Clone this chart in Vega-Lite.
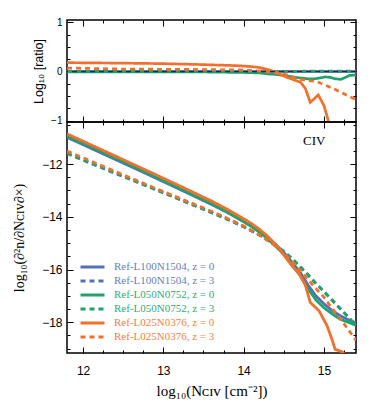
{
  "$schema": "https://vega.github.io/schema/vega-lite/v6.json",
  "autosize": "none",
  "padding": {"left": 67, "top": 20, "right": 307, "bottom": 391},
  "background": "white",
  "spacing": 0,
  "bounds": "flush",
  "resolve": {"scale": {"color": "independent", "strokeDash": "independent"}, "legend": {"color": "independent", "strokeDash": "independent"}},
  "config": {
    "concat": {"spacing": 0},
    "view": {"stroke": "black", "strokeWidth": 1.5},
    "axis": {"domain": false, "grid": false, "tickColor": "black", "tickWidth": 1, "labelColor": "black", "titleColor": "black", "labelFont": "Liberation Sans", "titleFont": "Liberation Serif", "titleFontWeight": "normal", "labelOverlap": false, "labelBound": false, "labelFlush": false},
    "line": {"clip": true}
  },
  "datasets": {
    "ratio": [
      {"N": 11.8, "series": "Ref-L100N1504, z = 0", "r": 0},
      {"N": 13.0, "series": "Ref-L100N1504, z = 0", "r": 0},
      {"N": 14.0, "series": "Ref-L100N1504, z = 0", "r": 0},
      {"N": 15.4, "series": "Ref-L100N1504, z = 0", "r": 0},
      {"N": 11.8, "series": "Ref-L100N1504, z = 3", "r": 0},
      {"N": 13.0, "series": "Ref-L100N1504, z = 3", "r": 0},
      {"N": 14.0, "series": "Ref-L100N1504, z = 3", "r": 0},
      {"N": 15.4, "series": "Ref-L100N1504, z = 3", "r": 0},
      {"N": 11.8, "series": "Ref-L050N0752, z = 0", "r": -0.01},
      {"N": 12.5, "series": "Ref-L050N0752, z = 0", "r": -0.01},
      {"N": 13.5, "series": "Ref-L050N0752, z = 0", "r": -0.01},
      {"N": 14.0, "series": "Ref-L050N0752, z = 0", "r": -0.02},
      {"N": 14.2, "series": "Ref-L050N0752, z = 0", "r": -0.03},
      {"N": 14.3, "series": "Ref-L050N0752, z = 0", "r": -0.05},
      {"N": 14.4, "series": "Ref-L050N0752, z = 0", "r": -0.06},
      {"N": 14.5, "series": "Ref-L050N0752, z = 0", "r": -0.08},
      {"N": 14.6, "series": "Ref-L050N0752, z = 0", "r": -0.11},
      {"N": 14.7, "series": "Ref-L050N0752, z = 0", "r": -0.13},
      {"N": 14.8, "series": "Ref-L050N0752, z = 0", "r": -0.15},
      {"N": 14.88, "series": "Ref-L050N0752, z = 0", "r": -0.15},
      {"N": 14.96, "series": "Ref-L050N0752, z = 0", "r": -0.13},
      {"N": 15.02, "series": "Ref-L050N0752, z = 0", "r": -0.11},
      {"N": 15.08, "series": "Ref-L050N0752, z = 0", "r": -0.12},
      {"N": 15.14, "series": "Ref-L050N0752, z = 0", "r": -0.15},
      {"N": 15.21, "series": "Ref-L050N0752, z = 0", "r": -0.16},
      {"N": 15.27, "series": "Ref-L050N0752, z = 0", "r": -0.12},
      {"N": 15.32, "series": "Ref-L050N0752, z = 0", "r": -0.08},
      {"N": 15.4, "series": "Ref-L050N0752, z = 0", "r": -0.07},
      {"N": 11.8, "series": "Ref-L050N0752, z = 3", "r": 0},
      {"N": 13.0, "series": "Ref-L050N0752, z = 3", "r": 0},
      {"N": 14.5, "series": "Ref-L050N0752, z = 3", "r": 0},
      {"N": 15.0, "series": "Ref-L050N0752, z = 3", "r": 0.01},
      {"N": 15.4, "series": "Ref-L050N0752, z = 3", "r": 0.01},
      {"N": 11.8, "series": "Ref-L025N0376, z = 0", "r": 0.18},
      {"N": 12.5, "series": "Ref-L025N0376, z = 0", "r": 0.17},
      {"N": 13.0, "series": "Ref-L025N0376, z = 0", "r": 0.16},
      {"N": 13.5, "series": "Ref-L025N0376, z = 0", "r": 0.14},
      {"N": 13.9, "series": "Ref-L025N0376, z = 0", "r": 0.12},
      {"N": 14.1, "series": "Ref-L025N0376, z = 0", "r": 0.1},
      {"N": 14.2, "series": "Ref-L025N0376, z = 0", "r": 0.08},
      {"N": 14.3, "series": "Ref-L025N0376, z = 0", "r": 0.04},
      {"N": 14.38, "series": "Ref-L025N0376, z = 0", "r": 0.0},
      {"N": 14.54, "series": "Ref-L025N0376, z = 0", "r": -0.12},
      {"N": 14.71, "series": "Ref-L025N0376, z = 0", "r": -0.22},
      {"N": 14.77, "series": "Ref-L025N0376, z = 0", "r": -0.35},
      {"N": 14.83, "series": "Ref-L025N0376, z = 0", "r": -0.63},
      {"N": 14.93, "series": "Ref-L025N0376, z = 0", "r": -0.48},
      {"N": 15.0, "series": "Ref-L025N0376, z = 0", "r": -0.69},
      {"N": 15.06, "series": "Ref-L025N0376, z = 0", "r": -1.03},
      {"N": 15.12, "series": "Ref-L025N0376, z = 0", "r": -1.4},
      {"N": 11.8, "series": "Ref-L025N0376, z = 3", "r": 0.07},
      {"N": 12.5, "series": "Ref-L025N0376, z = 3", "r": 0.05},
      {"N": 13.5, "series": "Ref-L025N0376, z = 3", "r": 0.04},
      {"N": 14.0, "series": "Ref-L025N0376, z = 3", "r": 0.03},
      {"N": 14.2, "series": "Ref-L025N0376, z = 3", "r": 0.01},
      {"N": 14.4, "series": "Ref-L025N0376, z = 3", "r": -0.03},
      {"N": 14.54, "series": "Ref-L025N0376, z = 3", "r": -0.07},
      {"N": 14.71, "series": "Ref-L025N0376, z = 3", "r": -0.16},
      {"N": 14.92, "series": "Ref-L025N0376, z = 3", "r": -0.21},
      {"N": 15.12, "series": "Ref-L025N0376, z = 3", "r": -0.35},
      {"N": 15.33, "series": "Ref-L025N0376, z = 3", "r": -0.52},
      {"N": 15.4, "series": "Ref-L025N0376, z = 3", "r": -0.57}
    ],
    "cddf": [
      {"N": 11.8, "series": "Ref-L100N1504, z = 0", "f": -10.98},
      {"N": 12.0, "series": "Ref-L100N1504, z = 0", "f": -11.26},
      {"N": 12.4, "series": "Ref-L100N1504, z = 0", "f": -11.82},
      {"N": 12.8, "series": "Ref-L100N1504, z = 0", "f": -12.38},
      {"N": 13.2, "series": "Ref-L100N1504, z = 0", "f": -12.95},
      {"N": 13.6, "series": "Ref-L100N1504, z = 0", "f": -13.53},
      {"N": 13.8, "series": "Ref-L100N1504, z = 0", "f": -13.84},
      {"N": 14.0, "series": "Ref-L100N1504, z = 0", "f": -14.18},
      {"N": 14.1, "series": "Ref-L100N1504, z = 0", "f": -14.36},
      {"N": 14.2, "series": "Ref-L100N1504, z = 0", "f": -14.56},
      {"N": 14.3, "series": "Ref-L100N1504, z = 0", "f": -14.79},
      {"N": 14.4, "series": "Ref-L100N1504, z = 0", "f": -15.05},
      {"N": 14.5, "series": "Ref-L100N1504, z = 0", "f": -15.35},
      {"N": 14.6, "series": "Ref-L100N1504, z = 0", "f": -15.72},
      {"N": 14.7, "series": "Ref-L100N1504, z = 0", "f": -16.08},
      {"N": 14.8, "series": "Ref-L100N1504, z = 0", "f": -16.58},
      {"N": 14.9, "series": "Ref-L100N1504, z = 0", "f": -17.0},
      {"N": 15.0, "series": "Ref-L100N1504, z = 0", "f": -17.3},
      {"N": 15.1, "series": "Ref-L100N1504, z = 0", "f": -17.55},
      {"N": 15.2, "series": "Ref-L100N1504, z = 0", "f": -17.75},
      {"N": 15.3, "series": "Ref-L100N1504, z = 0", "f": -17.9},
      {"N": 15.4, "series": "Ref-L100N1504, z = 0", "f": -18.03},
      {"N": 11.8, "series": "Ref-L100N1504, z = 3", "f": -11.6},
      {"N": 12.0, "series": "Ref-L100N1504, z = 3", "f": -11.85},
      {"N": 12.4, "series": "Ref-L100N1504, z = 3", "f": -12.35},
      {"N": 12.8, "series": "Ref-L100N1504, z = 3", "f": -12.84},
      {"N": 13.2, "series": "Ref-L100N1504, z = 3", "f": -13.34},
      {"N": 13.6, "series": "Ref-L100N1504, z = 3", "f": -13.84},
      {"N": 13.8, "series": "Ref-L100N1504, z = 3", "f": -14.1},
      {"N": 14.0, "series": "Ref-L100N1504, z = 3", "f": -14.38},
      {"N": 14.2, "series": "Ref-L100N1504, z = 3", "f": -14.7},
      {"N": 14.4, "series": "Ref-L100N1504, z = 3", "f": -15.08},
      {"N": 14.5, "series": "Ref-L100N1504, z = 3", "f": -15.32},
      {"N": 14.6, "series": "Ref-L100N1504, z = 3", "f": -15.58},
      {"N": 14.7, "series": "Ref-L100N1504, z = 3", "f": -15.88},
      {"N": 14.8, "series": "Ref-L100N1504, z = 3", "f": -16.2},
      {"N": 14.9, "series": "Ref-L100N1504, z = 3", "f": -16.53},
      {"N": 15.0, "series": "Ref-L100N1504, z = 3", "f": -16.84},
      {"N": 15.1, "series": "Ref-L100N1504, z = 3", "f": -17.16},
      {"N": 15.2, "series": "Ref-L100N1504, z = 3", "f": -17.48},
      {"N": 15.3, "series": "Ref-L100N1504, z = 3", "f": -17.8},
      {"N": 15.4, "series": "Ref-L100N1504, z = 3", "f": -18.13},
      {"N": 11.8, "series": "Ref-L050N0752, z = 0", "f": -10.93},
      {"N": 12.0, "series": "Ref-L050N0752, z = 0", "f": -11.21},
      {"N": 12.4, "series": "Ref-L050N0752, z = 0", "f": -11.77},
      {"N": 12.8, "series": "Ref-L050N0752, z = 0", "f": -12.33},
      {"N": 13.2, "series": "Ref-L050N0752, z = 0", "f": -12.91},
      {"N": 13.6, "series": "Ref-L050N0752, z = 0", "f": -13.5},
      {"N": 13.8, "series": "Ref-L050N0752, z = 0", "f": -13.82},
      {"N": 14.0, "series": "Ref-L050N0752, z = 0", "f": -14.18},
      {"N": 14.1, "series": "Ref-L050N0752, z = 0", "f": -14.37},
      {"N": 14.2, "series": "Ref-L050N0752, z = 0", "f": -14.59},
      {"N": 14.3, "series": "Ref-L050N0752, z = 0", "f": -14.84},
      {"N": 14.4, "series": "Ref-L050N0752, z = 0", "f": -15.12},
      {"N": 14.5, "series": "Ref-L050N0752, z = 0", "f": -15.43},
      {"N": 14.6, "series": "Ref-L050N0752, z = 0", "f": -15.83},
      {"N": 14.7, "series": "Ref-L050N0752, z = 0", "f": -16.2},
      {"N": 14.8, "series": "Ref-L050N0752, z = 0", "f": -16.72},
      {"N": 14.9, "series": "Ref-L050N0752, z = 0", "f": -17.15},
      {"N": 15.0, "series": "Ref-L050N0752, z = 0", "f": -17.45},
      {"N": 15.1, "series": "Ref-L050N0752, z = 0", "f": -17.68},
      {"N": 15.2, "series": "Ref-L050N0752, z = 0", "f": -17.88},
      {"N": 15.3, "series": "Ref-L050N0752, z = 0", "f": -18.0},
      {"N": 15.4, "series": "Ref-L050N0752, z = 0", "f": -18.12},
      {"N": 11.8, "series": "Ref-L050N0752, z = 3", "f": -11.58},
      {"N": 12.0, "series": "Ref-L050N0752, z = 3", "f": -11.83},
      {"N": 12.4, "series": "Ref-L050N0752, z = 3", "f": -12.33},
      {"N": 12.8, "series": "Ref-L050N0752, z = 3", "f": -12.83},
      {"N": 13.2, "series": "Ref-L050N0752, z = 3", "f": -13.33},
      {"N": 13.6, "series": "Ref-L050N0752, z = 3", "f": -13.83},
      {"N": 13.8, "series": "Ref-L050N0752, z = 3", "f": -14.09},
      {"N": 14.0, "series": "Ref-L050N0752, z = 3", "f": -14.37},
      {"N": 14.2, "series": "Ref-L050N0752, z = 3", "f": -14.69},
      {"N": 14.4, "series": "Ref-L050N0752, z = 3", "f": -15.07},
      {"N": 14.5, "series": "Ref-L050N0752, z = 3", "f": -15.31},
      {"N": 14.6, "series": "Ref-L050N0752, z = 3", "f": -15.57},
      {"N": 14.7, "series": "Ref-L050N0752, z = 3", "f": -15.87},
      {"N": 14.8, "series": "Ref-L050N0752, z = 3", "f": -16.19},
      {"N": 14.9, "series": "Ref-L050N0752, z = 3", "f": -16.52},
      {"N": 15.0, "series": "Ref-L050N0752, z = 3", "f": -16.83},
      {"N": 15.1, "series": "Ref-L050N0752, z = 3", "f": -17.15},
      {"N": 15.2, "series": "Ref-L050N0752, z = 3", "f": -17.47},
      {"N": 15.3, "series": "Ref-L050N0752, z = 3", "f": -17.79},
      {"N": 15.4, "series": "Ref-L050N0752, z = 3", "f": -18.12},
      {"N": 11.8, "series": "Ref-L025N0376, z = 0", "f": -10.85},
      {"N": 12.0, "series": "Ref-L025N0376, z = 0", "f": -11.13},
      {"N": 12.4, "series": "Ref-L025N0376, z = 0", "f": -11.69},
      {"N": 12.8, "series": "Ref-L025N0376, z = 0", "f": -12.25},
      {"N": 13.2, "series": "Ref-L025N0376, z = 0", "f": -12.82},
      {"N": 13.6, "series": "Ref-L025N0376, z = 0", "f": -13.4},
      {"N": 13.8, "series": "Ref-L025N0376, z = 0", "f": -13.72},
      {"N": 14.0, "series": "Ref-L025N0376, z = 0", "f": -14.07},
      {"N": 14.1, "series": "Ref-L025N0376, z = 0", "f": -14.26},
      {"N": 14.2, "series": "Ref-L025N0376, z = 0", "f": -14.48},
      {"N": 14.3, "series": "Ref-L025N0376, z = 0", "f": -14.74},
      {"N": 14.4, "series": "Ref-L025N0376, z = 0", "f": -15.06},
      {"N": 14.5, "series": "Ref-L025N0376, z = 0", "f": -15.44},
      {"N": 14.6, "series": "Ref-L025N0376, z = 0", "f": -15.85},
      {"N": 14.7, "series": "Ref-L025N0376, z = 0", "f": -16.2},
      {"N": 14.77, "series": "Ref-L025N0376, z = 0", "f": -16.6},
      {"N": 14.83, "series": "Ref-L025N0376, z = 0", "f": -17.25},
      {"N": 14.94, "series": "Ref-L025N0376, z = 0", "f": -17.57},
      {"N": 15.04, "series": "Ref-L025N0376, z = 0", "f": -18.14},
      {"N": 15.1, "series": "Ref-L025N0376, z = 0", "f": -18.65},
      {"N": 15.14, "series": "Ref-L025N0376, z = 0", "f": -19.03},
      {"N": 15.23, "series": "Ref-L025N0376, z = 0", "f": -19.13},
      {"N": 15.32, "series": "Ref-L025N0376, z = 0", "f": -19.4},
      {"N": 11.8, "series": "Ref-L025N0376, z = 3", "f": -11.5},
      {"N": 12.0, "series": "Ref-L025N0376, z = 3", "f": -11.76},
      {"N": 12.4, "series": "Ref-L025N0376, z = 3", "f": -12.28},
      {"N": 12.8, "series": "Ref-L025N0376, z = 3", "f": -12.79},
      {"N": 13.2, "series": "Ref-L025N0376, z = 3", "f": -13.29},
      {"N": 13.6, "series": "Ref-L025N0376, z = 3", "f": -13.79},
      {"N": 13.8, "series": "Ref-L025N0376, z = 3", "f": -14.06},
      {"N": 14.0, "series": "Ref-L025N0376, z = 3", "f": -14.35},
      {"N": 14.2, "series": "Ref-L025N0376, z = 3", "f": -14.69},
      {"N": 14.4, "series": "Ref-L025N0376, z = 3", "f": -15.11},
      {"N": 14.5, "series": "Ref-L025N0376, z = 3", "f": -15.38},
      {"N": 14.6, "series": "Ref-L025N0376, z = 3", "f": -15.68},
      {"N": 14.7, "series": "Ref-L025N0376, z = 3", "f": -16.03},
      {"N": 14.8, "series": "Ref-L025N0376, z = 3", "f": -16.37},
      {"N": 14.9, "series": "Ref-L025N0376, z = 3", "f": -16.72},
      {"N": 15.0, "series": "Ref-L025N0376, z = 3", "f": -17.05},
      {"N": 15.1, "series": "Ref-L025N0376, z = 3", "f": -17.47},
      {"N": 15.2, "series": "Ref-L025N0376, z = 3", "f": -17.85},
      {"N": 15.3, "series": "Ref-L025N0376, z = 3", "f": -18.27},
      {"N": 15.4, "series": "Ref-L025N0376, z = 3", "f": -18.69}
    ],
    "ratioAxis": [{"N": 13.5, "r": 0}],
    "cddfAxis": [{"N": 13.5, "f": -15}]
  },
  "vconcat": [
    {
      "width": 289,
      "height": 102,
      "layer": [
        {
          "data": {"name": "ratio"},
          "mark": {"type": "line", "strokeWidth": 2.7, "clip": true},
          "encoding": {
            "x": {"field": "N", "type": "quantitative", "scale": {"domain": [11.8, 15.4], "nice": false, "zero": false},
                  "axis": {"orient": "bottom", "values": [12, 13, 14, 15], "labels": false, "tickSize": -6, "title": null}},
            "y": {"field": "r", "type": "quantitative", "scale": {"domain": [-1.03, 1.05], "nice": false, "zero": false},
                  "axis": {"orient": "left", "values": [-1, 0, 1], "labelExpr": "datum.value > 0.5 ? '1' : datum.value < -0.5 ? '−1' : '0'", "tickSize": -6, "labelPadding": 11, "labelFontSize": 10, "labelFont": "Liberation Sans",
                           "title": "Log₁₀ [ratio]", "titleFont": "Liberation Sans", "titleFontSize": 12.5, "titleX": -29, "titleBaseline": "middle"}},
            "color": {"field": "series", "type": "nominal", "legend": null,
                      "scale": {"domain": ["Ref-L100N1504, z = 0", "Ref-L100N1504, z = 3", "Ref-L050N0752, z = 0", "Ref-L050N0752, z = 3", "Ref-L025N0376, z = 0", "Ref-L025N0376, z = 3"],
                                "range": ["#5470b5", "#5470b5", "#1fa36b", "#1fa36b", "#f36f2a", "#f36f2a"]}},
            "strokeDash": {"field": "series", "type": "nominal", "legend": null,
                      "scale": {"domain": ["Ref-L100N1504, z = 0", "Ref-L100N1504, z = 3", "Ref-L050N0752, z = 0", "Ref-L050N0752, z = 3", "Ref-L025N0376, z = 0", "Ref-L025N0376, z = 3"],
                                "range": [[1, 0], [5, 4], [1, 0], [5, 4], [1, 0], [5, 4]]}}
          }
        },
        {
          "data": {"name": "ratioAxis"},
          "mark": {"type": "rule", "color": "#1c2b5e", "strokeWidth": 1.5, "strokeDash": [5, 4]},
          "encoding": {"y": {"field": "r", "type": "quantitative", "axis": null}}
        },
        {
          "data": {"name": "ratioAxis"},
          "mark": {"type": "point", "opacity": 0},
          "encoding": {
            "x": {"field": "N", "type": "quantitative", "scale": {"domain": [11.8, 15.4], "nice": false, "zero": false},
                  "axis": {"orient": "bottom", "values": [12.25, 12.5, 12.75, 13.25, 13.5, 13.75, 14.25, 14.5, 14.75, 15.25], "labels": false, "tickSize": -3, "title": null}},
            "y": {"field": "r", "type": "quantitative", "scale": {"domain": [-1.03, 1.05], "nice": false, "zero": false},
                  "axis": {"orient": "left", "values": [-0.75, -0.5, -0.25, 0.25, 0.5, 0.75], "labels": false, "tickSize": -3, "title": null}}
          }
        },
        {
          "data": {"name": "ratioAxis"},
          "mark": {"type": "point", "opacity": 0},
          "encoding": {
            "x": {"field": "N", "type": "quantitative", "scale": {"domain": [11.8, 15.4], "nice": false, "zero": false},
                  "axis": {"orient": "top", "values": [12, 13, 14, 15], "labels": false, "tickSize": -6, "title": null}},
            "y": {"field": "r", "type": "quantitative", "scale": {"domain": [-1.03, 1.05], "nice": false, "zero": false},
                  "axis": {"orient": "right", "values": [-1, 0, 1], "labels": false, "tickSize": -6, "title": null}}
          }
        },
        {
          "data": {"name": "ratioAxis"},
          "mark": {"type": "point", "opacity": 0},
          "encoding": {
            "x": {"field": "N", "type": "quantitative", "scale": {"domain": [11.8, 15.4], "nice": false, "zero": false},
                  "axis": {"orient": "top", "values": [12.25, 12.5, 12.75, 13.25, 13.5, 13.75, 14.25, 14.5, 14.75, 15.25], "labels": false, "tickSize": -3, "title": null}},
            "y": {"field": "r", "type": "quantitative", "scale": {"domain": [-1.03, 1.05], "nice": false, "zero": false},
                  "axis": {"orient": "right", "values": [-0.75, -0.5, -0.25, 0.25, 0.5, 0.75], "labels": false, "tickSize": -3, "title": null}}
          }
        }
      ],
      "resolve": {"axis": {"x": "independent", "y": "independent"}}
    },
    {
      "width": 289,
      "height": 231,
      "layer": [
        {
          "data": {"name": "cddf"},
          "mark": {"type": "line", "strokeWidth": 2.8, "clip": true},
          "encoding": {
            "x": {"field": "N", "type": "quantitative", "scale": {"domain": [11.8, 15.4], "nice": false, "zero": false},
                  "axis": {"orient": "bottom", "values": [12, 13, 14, 15], "tickSize": -6, "labelPadding": 18, "labelFontSize": 12, "labelFont": "Liberation Sans",
                           "title": "log₁₀(Nᴄɪᴠ [cm⁻²])", "titleFontSize": 15, "titleY": 37, "titleBaseline": "middle"}},
            "y": {"field": "f", "type": "quantitative", "scale": {"domain": [-19.17, -10.4], "nice": false, "zero": false},
                  "axis": {"orient": "left", "values": [-18, -16, -14, -12], "tickSize": -6, "labelPadding": 11, "labelFontSize": 12, "labelFont": "Liberation Sans",
                           "title": "log₁₀(∂²n/∂Nᴄɪᴠ∂×)", "titleFontSize": 14, "titleX": -48, "titleBaseline": "middle"}},
            "color": {"field": "series", "type": "nominal",
                      "scale": {"domain": ["Ref-L100N1504, z = 0", "Ref-L100N1504, z = 3", "Ref-L050N0752, z = 0", "Ref-L050N0752, z = 3", "Ref-L025N0376, z = 0", "Ref-L025N0376, z = 3"],
                                "range": ["#5470b5", "#5470b5", "#1fa36b", "#1fa36b", "#f36f2a", "#f36f2a"]},
                      "legend": {"title": null, "orient": "none", "legendX": 18, "legendY": 137.5, "symbolType": "M-2,0H2", "symbolSize": 144, "symbolStrokeWidth": 3,
                                 "labelFont": "Liberation Serif", "labelFontSize": 11, "labelOffset": 14, "rowPadding": -0.5, "padding": 0,
                                 "encode": {
                                   "symbols": {"update": {"strokeDash": {"signal": "indexof(datum.value, 'z = 3') >= 0 ? [5, 4] : [1, 0]"}}},
                                   "labels": {"update": {"fill": {"signal": "indexof(datum.value, 'L100') >= 0 ? '#6580c2' : indexof(datum.value, 'L050') >= 0 ? '#2fab76' : '#f5803f'"}}}}}},
            "strokeDash": {"field": "series", "type": "nominal", "legend": null,
                      "scale": {"domain": ["Ref-L100N1504, z = 0", "Ref-L100N1504, z = 3", "Ref-L050N0752, z = 0", "Ref-L050N0752, z = 3", "Ref-L025N0376, z = 0", "Ref-L025N0376, z = 3"],
                                "range": [[1, 0], [5, 4], [1, 0], [5, 4], [1, 0], [5, 4]]}}
          }
        },
        {
          "data": {"values": [{"N": 14.88, "f": -11.14, "label": "CIV"}]},
          "mark": {"type": "text", "font": "Liberation Serif", "fontSize": 13, "color": "black", "align": "center", "baseline": "middle"},
          "encoding": {
            "x": {"field": "N", "type": "quantitative", "axis": null},
            "y": {"field": "f", "type": "quantitative", "axis": null},
            "text": {"field": "label"}
          }
        },
        {
          "data": {"name": "cddfAxis"},
          "mark": {"type": "point", "opacity": 0},
          "encoding": {
            "x": {"field": "N", "type": "quantitative", "scale": {"domain": [11.8, 15.4], "nice": false, "zero": false},
                  "axis": {"orient": "bottom", "values": [12.25, 12.5, 12.75, 13.25, 13.5, 13.75, 14.25, 14.5, 14.75, 15.25], "labels": false, "tickSize": -3, "title": null}},
            "y": {"field": "f", "type": "quantitative", "scale": {"domain": [-19.17, -10.4], "nice": false, "zero": false},
                  "axis": {"orient": "left", "values": [-19, -18.5, -17.5, -17, -16.5, -15.5, -15, -14.5, -13.5, -13, -12.5, -11.5, -11, -10.5], "labels": false, "tickSize": -3, "title": null}}
          }
        },
        {
          "data": {"name": "cddfAxis"},
          "mark": {"type": "point", "opacity": 0},
          "encoding": {
            "x": {"field": "N", "type": "quantitative", "scale": {"domain": [11.8, 15.4], "nice": false, "zero": false},
                  "axis": {"orient": "top", "values": [12, 13, 14, 15], "labels": false, "tickSize": -6, "title": null}},
            "y": {"field": "f", "type": "quantitative", "scale": {"domain": [-19.17, -10.4], "nice": false, "zero": false},
                  "axis": {"orient": "right", "values": [-18, -16, -14, -12], "labels": false, "tickSize": -6, "title": null}}
          }
        },
        {
          "data": {"name": "cddfAxis"},
          "mark": {"type": "point", "opacity": 0},
          "encoding": {
            "x": {"field": "N", "type": "quantitative", "scale": {"domain": [11.8, 15.4], "nice": false, "zero": false},
                  "axis": {"orient": "top", "values": [12.25, 12.5, 12.75, 13.25, 13.5, 13.75, 14.25, 14.5, 14.75, 15.25], "labels": false, "tickSize": -3, "title": null}},
            "y": {"field": "f", "type": "quantitative", "scale": {"domain": [-19.17, -10.4], "nice": false, "zero": false},
                  "axis": {"orient": "right", "values": [-19, -18.5, -17.5, -17, -16.5, -15.5, -15, -14.5, -13.5, -13, -12.5, -11.5, -11, -10.5], "labels": false, "tickSize": -3, "title": null}}
          }
        }
      ],
      "resolve": {"axis": {"x": "independent", "y": "independent"}}
    }
  ]
}
